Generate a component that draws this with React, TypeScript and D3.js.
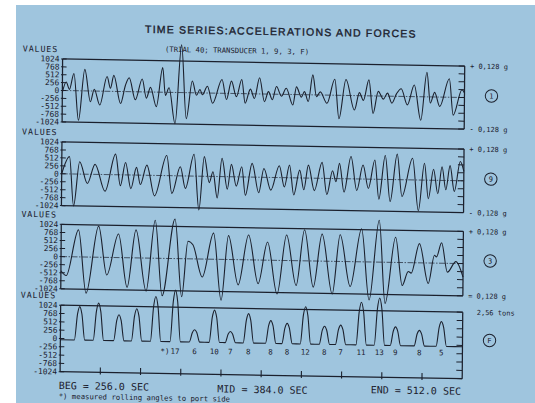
import React from 'react';
import * as d3 from 'd3';

// ---------------- DATA ----------------
const title = 'TIME SERIES:ACCELERATIONS AND FORCES';
const subtitle = '(TRIAL 40; TRANSDUCER 1, 9, 3, F)';
const panelIds = ['1', '9', '3', 'F'];
const tickValues = [1024, 768, 512, 256, 0, -256, -512, -768, -1024];
const tickLabels = ['1024', '768', '512', '256', '0', '-256', '-512', '-768', '-1024'];
const rightTopLabels = ['+ 0,128 g', '+ 0,128 g', '+ 0,128 g', '2,56 tons'];
const rightBottomLabels = ['- 0,128 g', '- 0,128 g', '= 0,128 g', ''];
const timeDomain = [256, 512];
const timeTicks = [281.6, 307.2, 332.8, 358.4, 384, 409.6, 435.2, 460.8, 486.4];
const timeLabels = ['BEG = 256.0 SEC', 'MID = 384.0 SEC', 'END = 512.0 SEC'];
const footnote = '*) measured rolling angles to port side';

// transducer 1 : [time s, value]
const trace1: [number, number][] = [
  [256.0, -60], [258.4, 280], [260.5, 40], [263.3, 560], [266.4, -960], [270.2, 700],
  [273.9, -350], [276.3, 60], [279.9, -450], [284.4, 480], [286.6, 100], [288.7, 520],
  [293.1, -390], [296.1, 200], [298.5, 450], [302.5, -260], [306.8, 420], [309.5, -200],
  [312.1, 150], [315.9, -470], [319.8, 800], [321.6, -100], [323.9, 150], [327.9, -1016],
  [331.7, 1550], [335.0, -843], [338.7, 380], [341.4, -80], [343.6, 110], [345.2, -60],
  [348.3, 220], [351.7, -330], [357.6, 450], [360.5, -200], [363.6, 400], [366.8, -100],
  [370.2, 460], [372.4, -310], [375.7, 150], [378.3, -150], [381.5, 525], [384.7, -250],
  [387.2, 80], [389.7, -180], [392.3, 250], [395.5, -60], [398.5, 200], [402.8, -340],
  [405.0, 250], [408.2, -80], [410.1, 100], [412.6, -220], [415.4, 650], [417.8, -60],
  [420.2, 100], [424.5, -265], [429.4, 520], [432.2, -760], [436.5, 520], [442.0, -470],
  [445.1, 100], [447.7, -150], [451.1, 520], [453.9, -570], [457.1, 150], [460.4, -100],
  [463.0, 100], [465.8, -225], [468.7, 80], [471.7, 250], [475.7, -271], [480.0, 380],
  [484.3, -764], [488.0, 800], [490.3, -200], [493.0, 150], [496.3, -307], [502.3, 600],
  [504.9, -580], [510.4, 250], [512.0, 150],
];

// transducer 9
const trace9: [number, number][] = [
  [256.0, 0], [260.9, 557], [263.7, -1030], [267.4, 400], [272.4, -300], [277.2, 322],
  [283.7, -540], [290.2, 663], [293.4, -350], [296.6, 400], [300.1, -440], [303.6, 250],
  [306.1, -300], [310.2, 328], [315.2, -660], [322.8, 648], [326.2, -570], [331.5, 293],
  [334.8, -400], [340.2, 705], [343.5, -1090], [346.7, 634], [350.0, -200], [352.3, 150],
  [355.1, -690], [358.0, 589], [361.5, -400], [364.0, 400], [367.2, -300], [370.6, 328],
  [373.0, -590], [377.2, 444], [381.5, -500], [384.7, 283], [389.2, -410], [394.5, 380],
  [397.8, -300], [401.0, 409], [403.8, -550], [407.5, 251], [410.2, -380], [413.0, 419],
  [416.9, -400], [421.7, 515], [424.9, -520], [428.4, 250], [430.6, -100], [432.8, 490],
  [435.8, -430], [440.1, 718], [443.9, -370], [447.8, 451], [451.3, -300], [455.3, 621],
  [458.0, -640], [461.9, 773], [465.2, -710], [469.5, 821], [472.7, -540], [479.3, 699],
  [483.2, -990], [486.9, 541], [489.5, -600], [492.7, 357], [495.5, -430], [498.1, 441],
  [500.6, -300], [503.2, 480], [506.0, -350], [509.7, 618], [512.0, 300],
];

// transducer 3
const trace3: [number, number][] = [
  [256.0, -450], [259.4, -600], [267.0, 860], [272.1, -1150], [279.8, 990], [285.2, -560],
  [292.5, 750], [298.2, -940], [303.6, 890], [310.3, -1050], [315.8, 1210], [320.5, -1190],
  [328.4, 1260], [333.0, -1210], [336.7, 560], [339.9, 450], [346.0, -570], [353.0, 830],
  [358.1, -1300], [362.5, 760], [368.9, -800], [375.3, 790], [381.6, -750], [387.4, 580],
  [393.7, -1070], [399.5, 810], [405.8, -790], [410.9, 990], [416.7, -830], [422.1, 860],
  [428.8, -1040], [433.6, 850], [440.2, -790], [447.2, 1050], [452.3, -1210], [458.4, 1330],
  [462.5, -1310], [468.9, 800], [473.3, -730], [477.1, -280], [479.0, -330], [484.1, 610],
  [489.9, -650], [493.7, 250], [495.0, 200], [498.2, 650], [502.0, -280], [507.4, 60],
  [512.0, -430],
];

// force F : pulse times (s), pulse peaks, roll angle labels
const forceTimes = [268.2, 280.2, 293.2, 304.5, 316.6, 329.1, 341.4, 354.0, 364.2, 375.7,
  389.9, 400.3, 412.0, 424.1, 434.4, 447.5, 459.1, 469.3, 484.5, 498.5];
const forcePeaks = [990, 1108, 763, 956, 1345, 1550, 340, 955, 306, 866,
  663, 585, 1106, 518, 560, 1276, 1415, 536, 441, 722];
const forceBaseline = -40;
const rollAngles = ['', '', '', '', '', '17', '6', '10', '7', '8', '8', '8', '12', '8', '7', '11', '13', '9', '8', '5'];

// ---------------- LAYOUT ----------------
const W = 535;
const H = 403;
const X_LEFT = 61.4;
const X_RIGHT = 463.5;
const panels = [
  { top: 59, bottom: 122, circleY: 88.5 },
  { top: 142, bottom: 205.6, circleY: 171.6 },
  { top: 224.4, bottom: 288.8, circleY: 253.5 },
  { top: 305.2, bottom: 371.7, circleY: 333 },
];
const INK = '#1b202d';
const BG = '#9fc5de';
const MONO = "'DejaVu Sans Mono', monospace";
const SANS = "'Liberation Sans', Arial, sans-serif";
const PULSE_HALF = 3.3;

export default function App() {
  const x = d3.scaleLinear().domain(timeDomain).range([X_LEFT, X_RIGHT]);
  const traces = [trace1, trace9, trace3];

  // force pulses: rounded "U" bumps built around each read peak
  const forcePts: [number, number][] = [[timeDomain[0], forceBaseline]];
  forceTimes.forEach((t, i) => {
    const v = forcePeaks[i];
    const sh = forceBaseline + 0.78 * (v - forceBaseline);
    forcePts.push([t - PULSE_HALF, forceBaseline]);
    forcePts.push([t - 0.42 * PULSE_HALF, sh]);
    forcePts.push([t, v]);
    forcePts.push([t + 0.42 * PULSE_HALF, sh]);
    forcePts.push([t + PULSE_HALF, forceBaseline]);
  });
  forcePts.push([timeDomain[1], forceBaseline]);

  return (
    <svg width={W} height={H} style={{ position: 'absolute', left: 0, top: 0, display: 'block' }}>
      <rect x={0} y={0} width={W} height={H} fill="#ffffff" />
      <rect x={16} y={5} width={W - 16} height={H - 5} fill={BG} />
      <g transform="matrix(1,0.01745,-0.008,1,1.68,-1.08)" fill={INK}>
        <text x={279.5} y={31.4} textAnchor="middle" fontFamily={SANS} fontSize={10.5}
          letterSpacing={1.2} stroke={INK} strokeWidth={0.35}>{title}</text>
        <text x={163.7} y={50} fontFamily={MONO} fontSize={7.25}>{subtitle}</text>

        {panels.map((p, pi) => {
          const y = d3.scaleLinear().domain([-1024, 1024]).range([p.bottom, p.top]);
          const line = d3.line<[number, number]>()
            .x((d) => x(d[0]))
            .y((d) => y(d[1]))
            .curve(d3.curveMonotoneX);
          const data = pi < 3 ? traces[pi] : forcePts;
          return (
            <g key={pi}>
              <text x={21.5} y={p.top - 6.8} fontFamily={MONO} fontSize={8.3} letterSpacing={0.9}>VALUES</text>
              {tickValues.map((v, i) => (
                <g key={v}>
                  <text x={X_LEFT - 3} y={y(v)} dy="0.35em" textAnchor="end" fontFamily={MONO}
                    fontSize={7.9}>{tickLabels[i]}</text>
                  <line x1={X_LEFT - 1.5} x2={X_LEFT + 4} y1={y(v)} y2={y(v)} stroke={INK} strokeWidth={1} />
                  <line x1={X_RIGHT - 6} x2={X_RIGHT} y1={y(v)} y2={y(v)} stroke={INK} strokeWidth={1} />
                </g>
              ))}
              {/* frame */}
              <line x1={X_LEFT} x2={X_LEFT} y1={p.top} y2={p.bottom} stroke={INK} strokeWidth={1.25} />
              <line x1={X_RIGHT} x2={X_RIGHT} y1={p.top} y2={p.bottom} stroke={INK} strokeWidth={1.25} />
              <line x1={X_LEFT} x2={X_RIGHT} y1={p.top} y2={p.top} stroke={INK} strokeWidth={1.25} />
              <line x1={X_LEFT} x2={X_RIGHT} y1={p.bottom} y2={p.bottom} stroke={INK} strokeWidth={1.25} />
              {pi < 3 && (
                <line x1={X_LEFT} x2={X_RIGHT} y1={y(0)} y2={y(0)} stroke={INK} strokeWidth={0.7}
                  strokeDasharray="6,1.5,1.5,1.5" />
              )}
              <path d={line(data) || ''} fill="none" stroke={INK} strokeWidth={1.1} strokeLinejoin="round" />
              {/* right labels */}
              <text x={pi < 3 ? 468.8 : 477.5} y={p.top} dy="0.36em" fontFamily={MONO} fontSize={7}>{rightTopLabels[pi]}</text>
              {rightBottomLabels[pi] && (
                <text x={468.8} y={p.bottom} dy="0.36em" fontFamily={MONO} fontSize={7}>{rightBottomLabels[pi]}</text>
              )}
              <circle cx={490.5} cy={p.circleY} r={6.2} fill="none" stroke={INK} strokeWidth={1} />
              <text x={490.5} y={p.circleY} dy="0.36em" textAnchor="middle" fontFamily={MONO} fontSize={7}>{panelIds[pi]}</text>
              {pi === 3 && (
                <g>
                  {timeTicks.map((t) => (
                    <line key={t} x1={x(t)} x2={x(t)} y1={p.bottom - 5} y2={p.bottom + 2} stroke={INK} strokeWidth={1.1} />
                  ))}
                  {forceTimes.map((t, i) => rollAngles[i] ? (
                    <text key={t} x={x(t)} y={y(0) + 13.5 - 0.012 * (x(t) - x(forceTimes[5]))} textAnchor="middle"
                      fontFamily={MONO} fontSize={7.5}>{rollAngles[i]}</text>
                  ) : null)}
                  <text x={x(forceTimes[5]) - 5.5} y={y(0) + 13.5} textAnchor="end" fontFamily={MONO} fontSize={7.5}>*)</text>
                </g>
              )}
            </g>
          );
        })}

        <text x={60.1} y={389} fontFamily={MONO} fontSize={10}>{timeLabels[0]}</text>
        <text x={263.9} y={389.6} textAnchor="middle" fontFamily={MONO} fontSize={10}>{timeLabels[1]}</text>
        <text x={462.4} y={387.8} textAnchor="end" fontFamily={MONO} fontSize={10}>{timeLabels[2]}</text>
        <text x={60.2} y={398.7} fontFamily={MONO} fontSize={7.3}>{footnote}</text>
      </g>
    </svg>
  );
}
